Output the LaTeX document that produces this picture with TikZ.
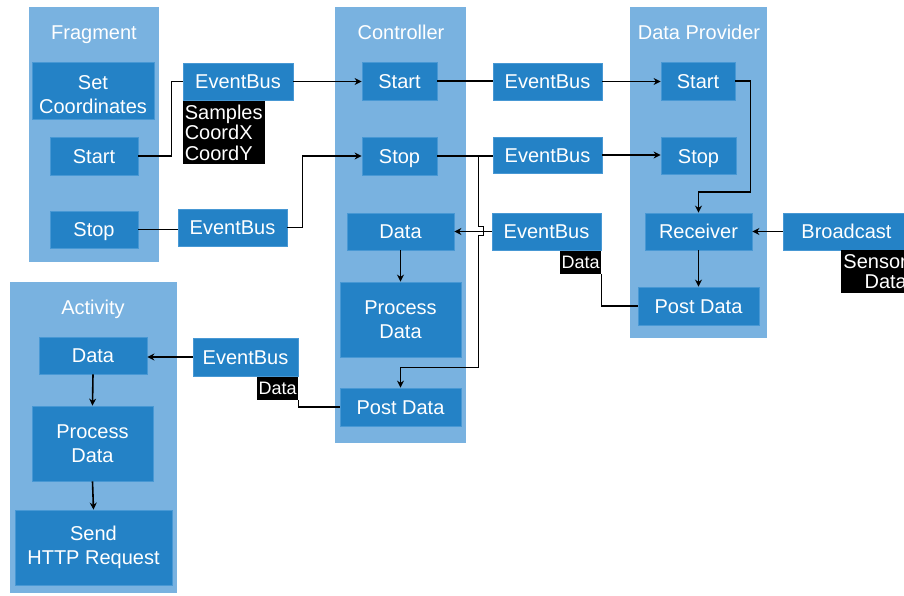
\documentclass[tikz,border=0pt]{standalone}
\usepackage{fontspec}
\setmainfont{Liberation Sans}
\usetikzlibrary{arrows.meta, calc}
\definecolor{laneBlue}{RGB}{121,178,224}
\definecolor{blockBlue}{RGB}{36,130,198}
\definecolor{blockEdge}{RGB}{72,152,212}

\begin{document}
\begin{tikzpicture}[x=1pt, y=-1pt,
    tallBlock/.style={fill=blockBlue, draw=blockEdge, line width=0.8pt, text=white, align=center,
        inner sep=0pt, font=\fontsize{20}{24}\selectfont},
    block/.style={tallBlock, text height=14.5pt, text depth=0pt},
    laneTitle/.style={text=white, inner sep=0pt, text height=14.5pt, text depth=0pt,
        font=\fontsize{20}{24}\selectfont},
    tagLabel/.style={fill=black, text=white, inner xsep=2pt, inner ysep=4pt, font=\fontsize{20}{20.5}\selectfont},
    smallTag/.style={fill=black, text=white, inner xsep=1.5pt, inner ysep=5pt, text height=12.9pt,
        text depth=0pt, font=\fontsize{18}{20}\selectfont},
    link/.style={line width=1.6pt, black},
    flow/.style={link, -{Stealth[length=7pt, width=7pt]}}]
    \useasboundingbox (0,0) rectangle (904,596);
    \clip (0,0) rectangle (904,596);

    % lanes
    \fill[laneBlue] (29,7) rectangle (159,262);
    \fill[laneBlue] (335,7) rectangle (466,443);
    \fill[laneBlue] (630,7) rectangle (767,338);
    \fill[laneBlue] (10,282) rectangle (177,593);
    \node[laneTitle] (fragT) at (94,32) {Fragment};
    \node[laneTitle] (ctrlT) at (401,32) {Controller};
    \node[laneTitle] (provT) at (699,32) {Data Provider};
    \node[laneTitle] (actT) at (93,307) {Activity};

    % Fragment
    \node[tallBlock, minimum width=122, minimum height=57] (fSet) at (93,90.5) {\rule{0pt}{22.5pt}Set\\Coordinates};
    \node[block, minimum width=88, minimum height=38] (fStart) at (94,156) {Start};
    \node[block, minimum width=88, minimum height=37] (fStop) at (94,229.5) {Stop};

    % Controller
    \node[block, minimum width=75, minimum height=38] (cStart) at (399.5,81) {Start};
    \node[block, minimum width=75, minimum height=38] (cStop) at (399.5,156) {Stop};
    \node[block, minimum width=107, minimum height=37] (cData) at (400.5,231.5) {Data};
    \node[tallBlock, minimum width=121, minimum height=75] (cProc) at (400.5,319.5) {Process\\Data};
    \node[block, minimum width=121, minimum height=38] (cPost) at (400.5,407) {Post Data};

    % Data Provider
    \node[block, minimum width=74, minimum height=38] (dStart) at (698,81) {Start};
    \node[block, minimum width=75, minimum height=37] (dStop) at (698.5,156) {Stop};
    \node[block, minimum width=107, minimum height=37] (dRecv) at (698.5,231.5) {Receiver};
    \node[block, minimum width=121, minimum height=38] (dPost) at (698.5,306) {Post Data};
    \node[block, minimum width=127, minimum height=37] (bcast) at (846.5,231.5) {Broadcast};

    % Activity
    \node[block, minimum width=108, minimum height=37] (aData) at (93,355.5) {Data};
    \node[tallBlock, minimum width=121, minimum height=75] (aProc) at (92.5,443.5) {Process\\Data};
    \node[tallBlock, minimum width=157, minimum height=75] (aSend) at (93.5,547.5) {Send\\HTTP Request};

    % event buses
    \node[block, minimum width=110, minimum height=37] (ebA) at (238,81.5) {EventBus};
    \node[block, minimum width=109, minimum height=37] (ebB) at (232.5,227.5) {EventBus};
    \node[block, minimum width=109, minimum height=37] (ebC) at (547.5,81.5) {EventBus};
    \node[block, minimum width=109, minimum height=36] (ebD) at (547.5,155) {EventBus};
    \node[block, minimum width=109, minimum height=37] (ebE) at (546.5,231.5) {EventBus};
    \node[block, minimum width=105, minimum height=38] (ebF) at (245.5,357) {EventBus};

    % payload tags
    \node[tagLabel, anchor=north west, align=left] (tagA) at (ebA.south west) {Samples\\CoordX\\CoordY};
    \node[smallTag, anchor=north east] (tagE) at (ebE.south east) {Data};
    \node[smallTag, anchor=north east] (tagF) at (ebF.south east) {Data};
    \node[tagLabel, anchor=north east, align=right] (tagS) at (909,250) {Sensor\\Data};

    % connectors
    \draw[link] (fStart.east) -- ++(33,0) |- (ebA.west);
    \draw[flow] (ebA.east) -- (ebA.east -| cStart.west);
    \draw[link] (fStop.east) -- (fStop.east -| ebB.west);
    \draw[flow] (ebB.east) -- ++(15,0) |- (cStop.west);
    \draw[link] (cStart.east) -- (cStart.east -| ebC.west);
    \draw[flow] (ebC.east) -- (ebC.east -| dStart.west);
    \draw[link] (cStop.east) -- (cStop.east -| ebD.west);
    \draw[flow] (ebD.east) -- (ebD.east -| dStop.west);
    \coordinate (split) at ($(cStop.east)+(41,0)$);
    \draw[flow] (split) -- ([yshift=5pt]split |- ebE.west) -- ++(5,0) -- ++(0,9) -- ++(-5,0)
        -- ([yshift=20pt]split |- cPost.north) -| (cPost.north);
    \draw[flow] (ebE.west) -- (cData.east);
    \draw[flow] (cData.south) -- (cProc.north);
    \draw[link] (dPost.west) -| (tagE.south east);
    \draw[flow] (dStart.east) -- ++(15,0) -- ++(0,111) -| (dRecv.north);
    \draw[flow] (dRecv.south) -- (dPost.north);
    \draw[flow] (bcast.west) -- (dRecv.east);
    \draw[link] (cPost.west) -| (tagF.south east);
    \draw[flow] (ebF.west) -- (ebF.west -| aData.east);
    \draw[flow] (aData.south) -- (aProc.north);
    \draw[flow] (aProc.south) -- (aSend.north);
\end{tikzpicture}
\end{document}
